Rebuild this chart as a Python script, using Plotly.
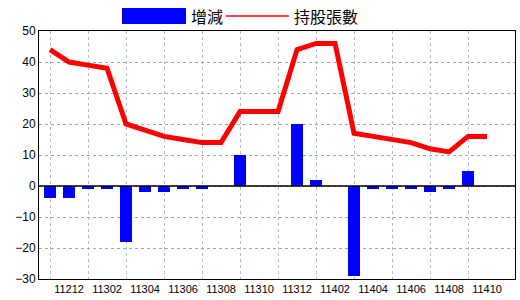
import plotly.graph_objects as go

months = ['11211','11212','11301','11302','11303','11304','11305','11306','11307','11308',
          '11309','11310','11311','11312','11401','11402','11403','11404','11405','11406',
          '11407','11408','11409','11410']
change = [-4, -4, -1, -1, -18, -2, -2, -1, -1, 0,
          10, 0, 0, 20, 2, 0, -29, -1, -1, -1,
          -2, -1, 5, 0]
holding = [44, 40, 39, 38, 20, 18, 16, 15, 14, 14,
           24, 24, 24, 44, 46, 46, 17, 16, 15, 14,
           12, 11, 16, 16]
bar_name = '增減'
line_name = '持股張數'

idx = list(range(len(months)))
label_idx = [i for i in idx if i % 2 == 1]
label_text = [months[i] for i in label_idx]
grid_idx = [i for i in idx if i % 2 == 0]

fig = go.Figure()
fig.add_trace(go.Bar(x=idx, y=change, name=bar_name, marker=dict(color='#0000ff', line=dict(width=0)),
                     width=0.63))
fig.add_trace(go.Scatter(x=idx, y=holding, name=line_name, mode='lines',
                         line=dict(color='#ff0000', width=5)))

L, T, W, H = 39, 31, 476, 248
def px(x): return (x - L) / W
def py(y): return (T + H - y) / H

shapes = [
    dict(type='rect', xref='paper', yref='paper', x0=px(122), x1=px(186), y0=py(24), y1=py(8),
         fillcolor='#0000ff', line=dict(width=0)),
    dict(type='line', xref='paper', yref='paper', x0=px(226), x1=px(289), y0=py(16), y1=py(16),
         line=dict(color='#ff0000', width=1.5)),
    dict(type='line', xref='x', yref='y', x0=-0.58, x1=24.47, y0=0, y1=0,
         line=dict(color='black', width=1.5), layer='above'),
]
annotations = [
    dict(xref='paper', yref='paper', x=px(189), y=py(16), text=bar_name, showarrow=False,
         xanchor='left', yanchor='middle', font=dict(size=16, color='black', family='Noto Sans CJK TC')),
    dict(xref='paper', yref='paper', x=px(292), y=py(16), text=line_name, showarrow=False,
         xanchor='left', yanchor='middle', font=dict(size=16, color='black', family='Noto Sans CJK TC')),
]

fig.update_layout(
    width=520, height=300,
    margin=dict(l=L, r=520 - L - W, t=T, b=300 - T - H),
    paper_bgcolor='white', plot_bgcolor='white',
    showlegend=False, bargap=0,
    font=dict(family='Liberation Sans', size=11, color='black'),
    shapes=shapes, annotations=annotations,
    xaxis=dict(range=[-0.58, 24.47], tickmode='array', tickvals=label_idx, ticktext=label_text,
               showgrid=False, zeroline=False, showline=True, linecolor='black', linewidth=1,
               mirror=True, ticks='', tickfont=dict(size=11),
               minor=dict(tickmode='array', tickvals=grid_idx, showgrid=True,
                          gridcolor='#a8c0d0', griddash='dot', gridwidth=1, ticks='')),
    yaxis=dict(range=[-30, 50], dtick=10, tick0=0, showgrid=True, gridcolor='#a0a8b0',
               griddash='dot', gridwidth=1, zeroline=False, showline=True, linecolor='black',
               linewidth=1, mirror=True, ticks='', tickfont=dict(size=12)),
)

fig.write_html('out.html')
